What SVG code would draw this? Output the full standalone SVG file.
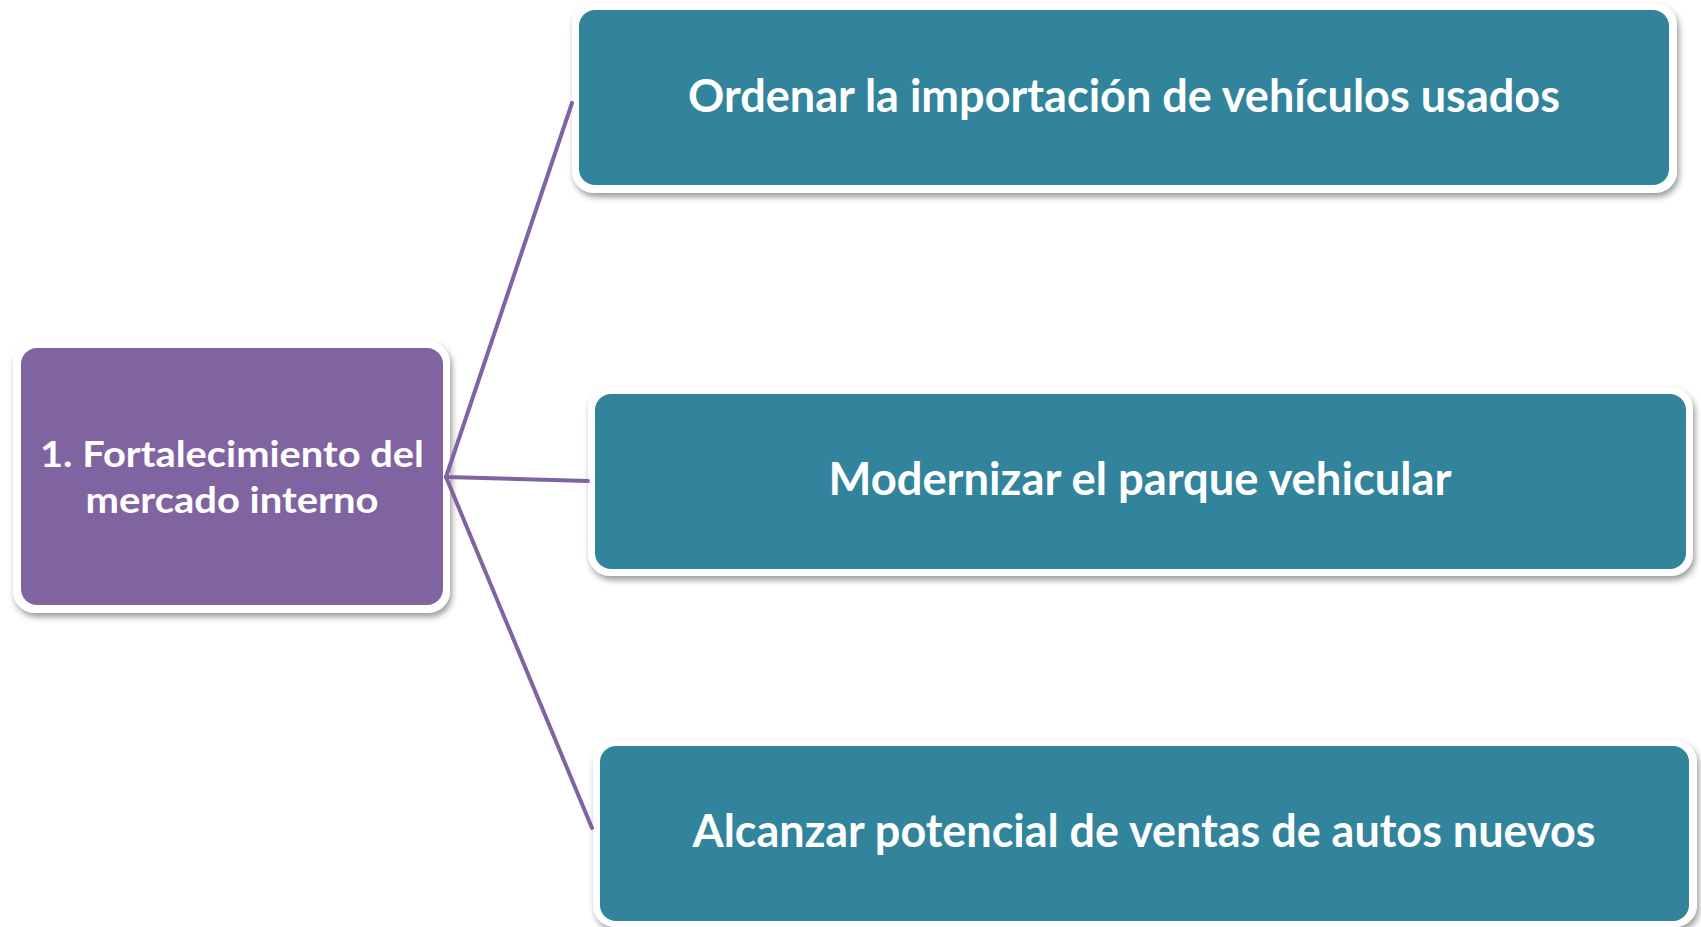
<svg xmlns="http://www.w3.org/2000/svg" width="1701" height="927" viewBox="0 0 1701 927">
<defs>
<filter id="sh" x="-5%" y="-10%" width="112%" height="125%">
<feDropShadow dx="2" dy="4" stdDeviation="3" flood-color="#000" flood-opacity="0.4"/>
</filter>
<style>
.frame{fill:#fff;filter:url(#sh)}
.purple{fill:#8064A2}
.teal{fill:#31849B}
.t{font-family:Lato,"Open Sans","Liberation Sans",sans-serif;font-weight:bold;fill:#fff;text-anchor:middle}
.big{font-size:45px}
.small{font-size:37px}
.conn{stroke:#8064A2;stroke-width:4;fill:none;stroke-linecap:round}
</style>
</defs>
<rect width="1701" height="927" fill="#fff"/>
<g id="node-root">
<rect class="frame" x="13" y="341" width="437" height="272" rx="22"/>
<rect class="purple" x="21" y="348" width="422" height="257" rx="16"/>
<text class="t small" x="232" y="467" textLength="384" lengthAdjust="spacingAndGlyphs">1. Fortalecimiento del</text>
<text class="t small" x="232" y="513" textLength="293" lengthAdjust="spacingAndGlyphs">mercado interno</text>
</g>
<g id="node-1">
<rect class="frame" x="572" y="3" width="1105" height="190" rx="22"/>
<rect class="teal" x="579" y="10" width="1090" height="175" rx="16"/>
<text class="t big" x="1124" y="112" textLength="872" lengthAdjust="spacingAndGlyphs">Ordenar la importación de vehículos usados</text>
</g>
<g id="node-2">
<rect class="frame" x="588" y="387" width="1105" height="189" rx="22"/>
<rect class="teal" x="595" y="394" width="1091" height="175" rx="16"/>
<text class="t big" x="1140" y="495" textLength="623" lengthAdjust="spacingAndGlyphs">Modernizar el parque vehicular</text>
</g>
<g id="node-3">
<rect class="frame" x="593" y="740" width="1104" height="187" rx="22"/>
<rect class="teal" x="600" y="746" width="1089" height="175" rx="16"/>
<text class="t big" x="1144" y="847" textLength="903" lengthAdjust="spacingAndGlyphs">Alcanzar potencial de ventas de autos nuevos</text>
</g>
<g id="connectors">
<line class="conn" x1="446" y1="477" x2="572" y2="103"/>
<line class="conn" x1="446" y1="477" x2="588" y2="481"/>
<line class="conn" x1="446" y1="477" x2="592" y2="828"/>
</g>
</svg>
